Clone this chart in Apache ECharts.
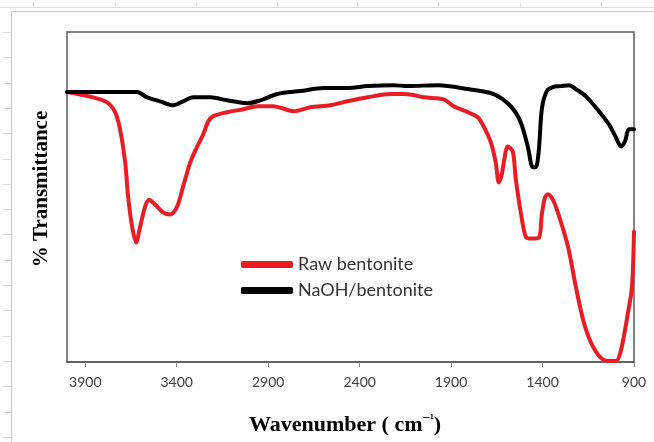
<!DOCTYPE html>
<html>
<head>
<meta charset="utf-8">
<title>FTIR spectra of raw and NaOH-treated bentonite</title>
<script src="https://cdn.jsdelivr.net/npm/echarts@6/dist/echarts.min.js"></script>
<style>
  html, body { margin: 0; padding: 0; background: #ffffff; }
  #chart { width: 654px; height: 442px; }
</style>
</head>
<body>
<div id="chart"></div>
<script>
// FTIR spectra, wavenumber (cm-1) vs % transmittance
const xTickValues = [900, 1400, 1900, 2400, 2900, 3400, 3900];

const rawWavenumber = [4000, 3858, 3781, 3737, 3710, 3682, 3666, 3644, 3622, 3600, 3573, 3551, 3518, 3474, 3436,
  3398, 3365, 3326, 3288, 3255, 3228, 3200, 3124, 3036, 2959, 2872, 2762, 2669, 2560, 2466, 2357, 2231, 2160,
  2105, 2050, 1941, 1886, 1809, 1754, 1722, 1683, 1656, 1639, 1623, 1612, 1590, 1563, 1546, 1519, 1492, 1464,
  1420, 1404, 1387, 1371, 1344, 1316, 1261, 1218, 1174, 1124, 1064, 999, 971, 933, 911, 900];
const rawTransmittance = [81.8, 80.2, 78.7, 75.7, 70.5, 60.5, 50.2, 41.0, 36.2, 41.0, 47.1, 49.2, 47.7, 45.3, 44.7,
  47.1, 53.2, 60.5, 65.3, 69.0, 72.9, 74.5, 75.7, 76.6, 77.5, 77.5, 76.0, 77.2, 77.8, 79.0, 80.2, 81.2, 81.2,
  80.9, 80.2, 79.6, 77.5, 75.7, 74.2, 71.4, 66.6, 60.5, 54.4, 56.8, 60.5, 65.3, 63.8, 55.3, 45.3, 38.0, 37.4,
  37.7, 44.7, 49.8, 50.8, 49.2, 45.3, 35.0, 22.8, 11.9, 4.6, 0.6, 0.3, 3.6, 14.9, 22.8, 39.5];

const naohWavenumber = [4000, 3819, 3617, 3562, 3491, 3419, 3365, 3310, 3217, 3124, 3014, 2943, 2850, 2724, 2598,
  2466, 2357, 2214, 2138, 1968, 1809, 1667, 1574, 1519, 1481, 1453, 1437, 1420, 1404, 1377, 1344, 1300, 1256,
  1218, 1163, 1092, 1037, 999, 971, 949, 928, 900];
const naohTransmittance = [81.8, 81.8, 81.8, 80.2, 79.0, 77.8, 79.0, 80.2, 80.2, 79.3, 78.4, 79.3, 81.2, 82.1, 83.0,
  83.0, 83.6, 83.9, 83.6, 83.9, 82.7, 81.2, 77.5, 72.6, 65.3, 59.0, 59.0, 64.4, 76.6, 82.1, 83.3, 83.6, 83.9,
  82.7, 80.5, 76.0, 72.0, 68.1, 65.3, 66.9, 70.5, 70.5];

const seriesNames = ['Raw bentonite', 'NaOH/bentonite'];
const xTitle = 'Wavenumber';
const yTitle = '% Transmittance';

function pairs(xs, ys) {
  return xs.map((x, i) => [x, ys[i]]);
}

// light spreadsheet gridlines around the chart area
const bgGraphics = [];
bgGraphics.push({ type: 'line', shape: { x1: 0, y1: 7.5, x2: 654, y2: 7.5 }, style: { stroke: '#dcdcdc', lineWidth: 1 }, silent: true });
[33, 115, 196, 277, 357, 438, 520, 601].forEach(x => {
  bgGraphics.push({ type: 'line', shape: { x1: x + 0.5, y1: 3, x2: x + 0.5, y2: 8 }, style: { stroke: '#dcdcdc', lineWidth: 1 }, silent: true });
});
for (let y = 32; y < 442; y += 25.3) {
  const yy = Math.round(y) + 0.5;
  bgGraphics.push({ type: 'line', shape: { x1: 3, y1: yy, x2: 11, y2: yy }, style: { stroke: '#dcdcdc', lineWidth: 1 }, silent: true });
}
bgGraphics.push({ type: 'polyline', shape: { points: [[11.5, 442], [11.5, 11.5], [654, 11.5]] }, style: { stroke: '#c8c8c8', lineWidth: 1, fill: null }, silent: true });

// axis titles (bold serif, superscript unit)
bgGraphics.push({
  type: 'text', left: 249, top: 412, silent: true,
  style: {
    text: '{t|' + xTitle + ' ( cm}{s|\u2212\u00B9}{t|)}',
    rich: {
      t: { fontFamily: 'Liberation Serif', fontWeight: 'bold', fontSize: 22, fill: '#000', lineHeight: 26 },
      s: { fontFamily: 'Liberation Serif', fontWeight: 'bold', fontSize: 13, fill: '#000', lineHeight: 26, verticalAlign: 'top', padding: [0, 0, 10, 0] }
    }
  }
});
bgGraphics.push({
  type: 'text', x: 42, y: 189, rotation: Math.PI / 2, silent: true,
  style: {
    text: yTitle, fontFamily: 'Liberation Serif', fontWeight: 'bold', fontSize: 21, fill: '#000',
    align: 'center', verticalAlign: 'middle'
  }
});

const chart = echarts.init(document.getElementById('chart'), null, { renderer: 'canvas' });
chart.setOption({
  animation: false,
  backgroundColor: '#ffffff',
  graphic: bgGraphics,
  grid: {
    left: 67, right: 20, top: 32, bottom: 80,
    show: true, borderColor: '#5a5a5a', borderWidth: 1.5, backgroundColor: 'transparent'
  },
  legend: {
    orient: 'vertical', left: 236, top: 250,
    icon: 'roundRect', itemWidth: 52, itemHeight: 7, itemGap: 7,
    data: seriesNames,
    textStyle: { fontFamily: 'Lato', fontSize: 18, color: '#333', lineHeight: 19 }
  },
  xAxis: {
    type: 'value', inverse: true, min: 900, max: 4000,
    axisLine: { show: true, lineStyle: { color: '#5a5a5a', width: 1.5 } },
    axisTick: { show: true, inside: false, length: 5, customValues: xTickValues, lineStyle: { color: '#888', width: 1 } },
    axisLabel: {
      customValues: xTickValues, fontFamily: 'Lato', fontSize: 14, color: '#404040', margin: 13,
      formatter: v => String(v)
    },
    splitLine: { show: false }
  },
  yAxis: {
    type: 'value', min: 0, max: 100,
    axisLine: { show: false }, axisTick: { show: false }, axisLabel: { show: false }, splitLine: { show: false }
  },
  series: [
    {
      name: seriesNames[0], type: 'line', data: pairs(rawWavenumber, rawTransmittance),
      showSymbol: false, smooth: 0.3, color: '#ec1c24',
      lineStyle: { width: 4, color: '#ec1c24', cap: 'round', join: 'round' }, z: 2
    },
    {
      name: seriesNames[1], type: 'line', data: pairs(naohWavenumber, naohTransmittance),
      showSymbol: false, smooth: 0.3, color: '#000000',
      lineStyle: { width: 4, color: '#000000', cap: 'round', join: 'round' }, z: 3
    }
  ]
});
</script>
</body>
</html>
